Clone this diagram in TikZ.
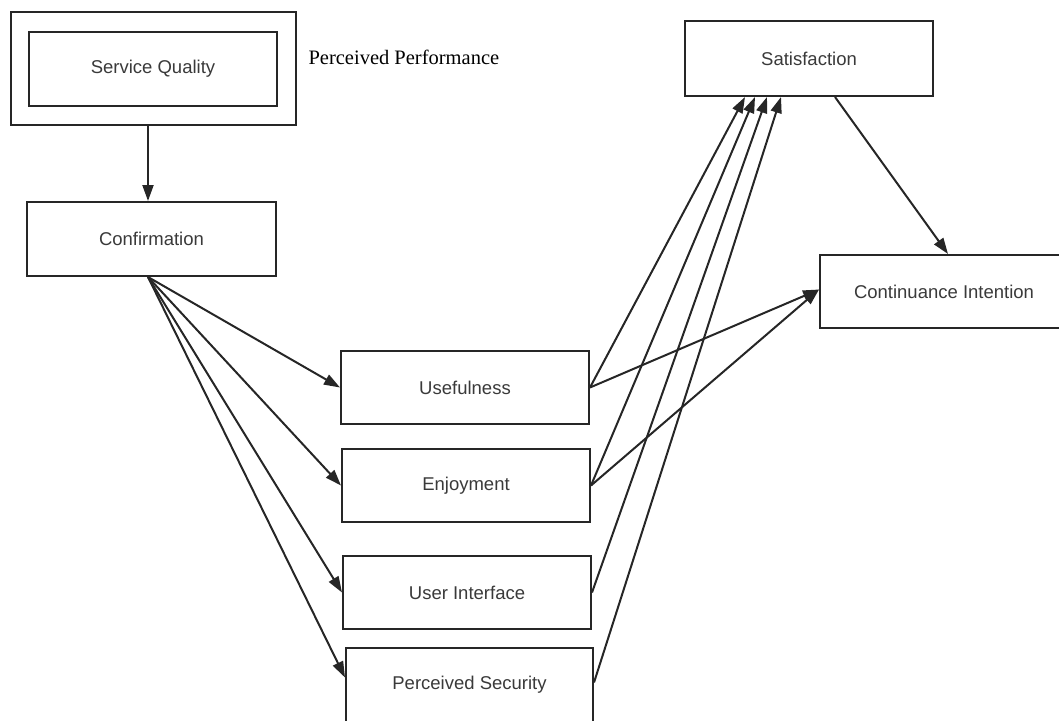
\documentclass[tikz,border=0pt]{standalone}
\usepackage{fontspec}
\setmainfont{Liberation Sans}
\newfontfamily\serifface{Liberation Serif}
\usetikzlibrary{arrows.meta}
\definecolor{edgecol}{HTML}{262626}
\definecolor{textcol}{HTML}{3A3A3A}
\begin{document}
\begin{tikzpicture}[x=1pt,y=-1pt,
  box/.style={draw=edgecol, line width=2pt, rectangle, fill=white, inner sep=0pt,
    text=textcol, font=\fontsize{18.5}{21}\selectfont, minimum width=248, minimum height=74},
  link/.style={draw=edgecol, line width=2pt, -{Triangle[length=16pt,width=11pt]}}]
\useasboundingbox (0,0) rectangle (1059,720);

% outer frame around the service quality construct
\node[box, minimum width=285, minimum height=113] (outer) at (153.5,68.5) {};
\node[box] (sq) at (153,69) {\raisebox{-2pt}{Service Quality}};
\node[anchor=west, font=\serifface\fontsize{20.5}{24}\selectfont, text=black] (pp) at (305,57) {Perceived Performance};

\node[box, minimum width=249] (conf) at (151.5,239) {Confirmation};
\node[box, minimum height=75] (sat) at (809,58.5) {Satisfaction};
\node[box, minimum height=73] (ci) at (944,291.5) {Continuance Intention};

\node[box, minimum height=73] (use) at (465,387.5) {Usefulness};
\node[box, minimum height=73] (enj) at (466,485.5) {Enjoyment};
\node[box, minimum height=73] (ui) at (467,592.5) {User Interface};
\node[box, minimum width=247] (ps) at (469.5,684.5) {Perceived Security};

% service quality to confirmation
\draw[link] ([xshift=-5.5]outer.south) -- ([xshift=-3.5]conf.north);

% confirmation fans out to the four beliefs
\draw[link] ([xshift=-3.5]conf.south) -- (use.west);
\draw[link] ([xshift=-3.5]conf.south) -- (enj.west);
\draw[link] ([xshift=-3.5]conf.south) -- (ui.west);
\draw[link] ([xshift=-3.5]conf.south) -- ([yshift=7]ps.west);

% beliefs to satisfaction
\draw[link] (use.east) -- ([xshift=-64]sat.south);
\draw[link] (enj.east) -- ([xshift=-54]sat.south);
\draw[link] (ui.east) -- ([xshift=-42]sat.south);
\draw[link] ([yshift=2]ps.east) -- ([xshift=-28]sat.south);

% beliefs to continuance intention
\draw[link] (use.east) -- ([yshift=2]ci.west);
\draw[link] (enj.east) -- ([yshift=2]ci.west);

% satisfaction to continuance intention
\draw[link] ([xshift=26]sat.south) -- ([xshift=4]ci.north);
\end{tikzpicture}
\end{document}
